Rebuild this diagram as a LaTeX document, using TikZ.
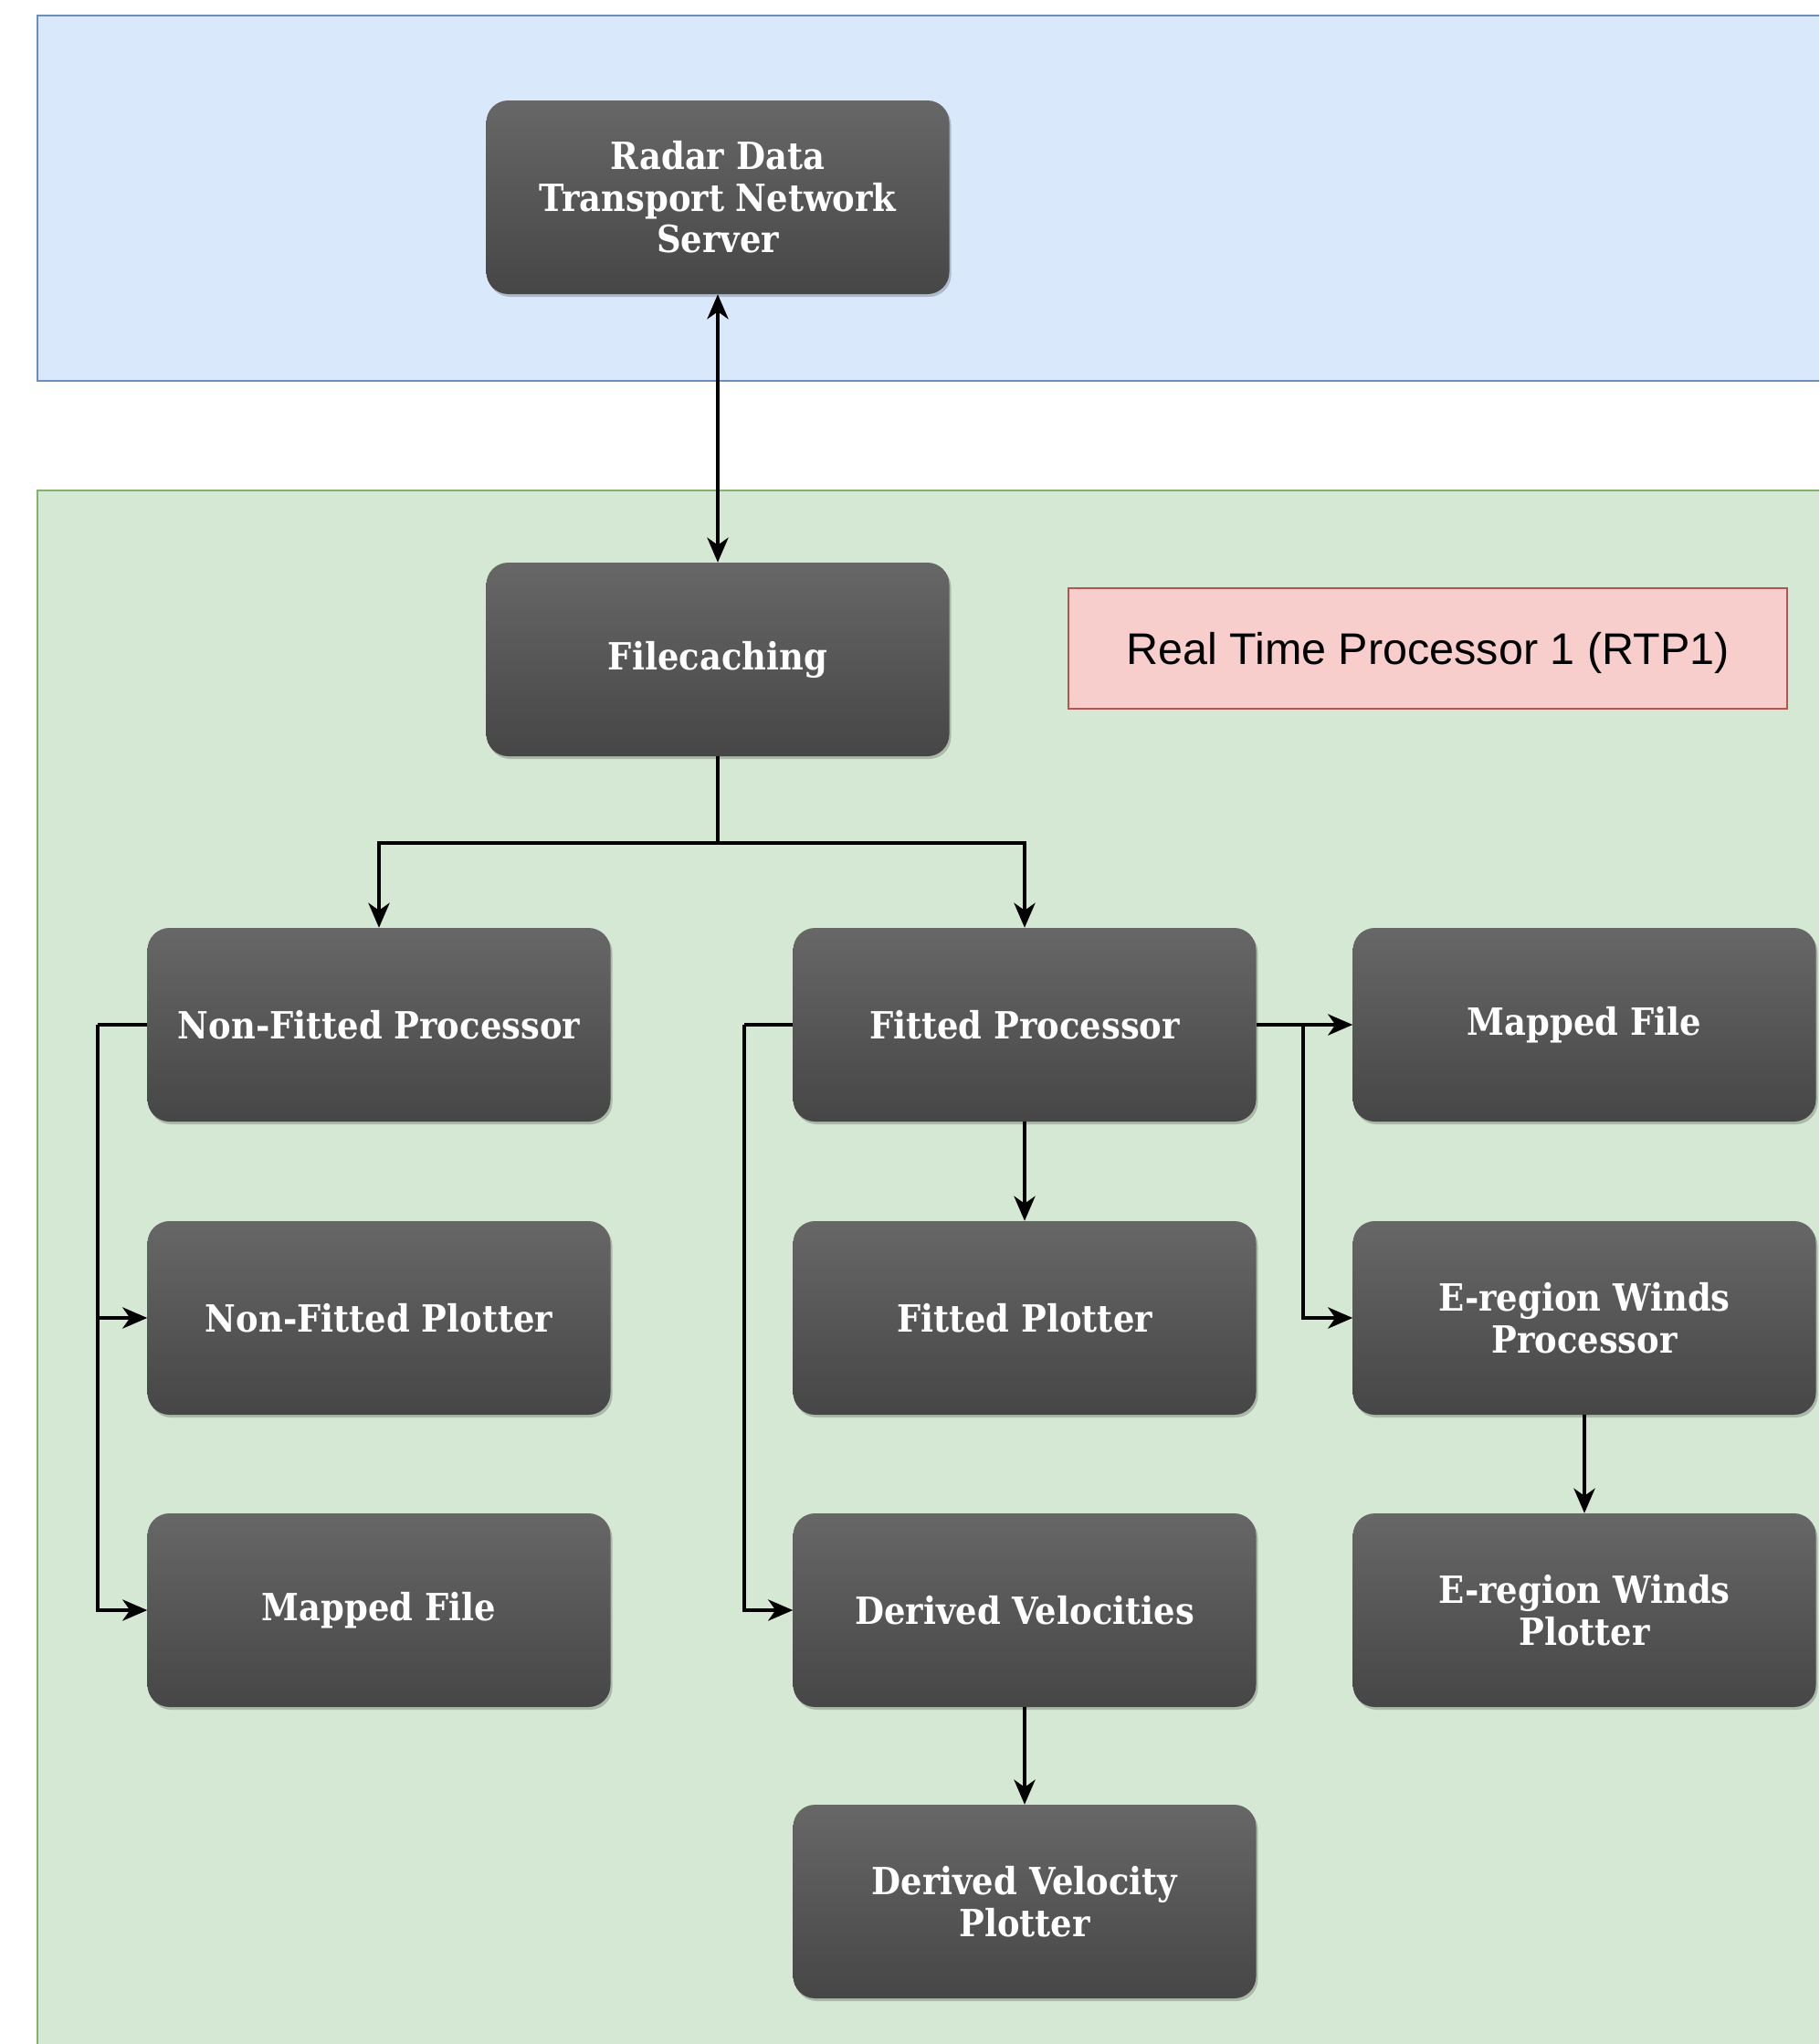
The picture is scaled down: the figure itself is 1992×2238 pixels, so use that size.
\documentclass[tikz,border=0pt]{standalone}
\usepackage{fontspec}
\usetikzlibrary{arrows.meta,shadows}
\newfontfamily\procfontfam[FakeStretch=0.9]{DejaVu Serif}
\newfontfamily\labelfam{Liberation Sans}
\definecolor{bluefill}{HTML}{DAE8FC}
\definecolor{blueline}{HTML}{6C8EBF}
\definecolor{greenfill}{HTML}{D5E8D4}
\definecolor{greenline}{HTML}{82B366}
\definecolor{pinkfill}{HTML}{F8CECC}
\definecolor{pinkline}{HTML}{B85450}
\definecolor{gtop}{HTML}{676767}
\definecolor{gbot}{HTML}{464646}
\tikzset{
  proc/.style={rectangle, rounded corners=24pt, minimum width=507pt, minimum height=212pt,
    top color=gtop, bottom color=gbot, draw=none, text=white, align=center, inner sep=0pt,
    font=\procfontfam\bfseries\fontsize{41}{45.7}\selectfont,
    drop shadow={shadow xshift=2pt, shadow yshift=-3pt, opacity=0.2, fill=black}},
  arr/.style={line width=4.5pt, -{Stealth[length=27pt,width=23pt,inset=8pt]}},
  arrboth/.style={line width=4.5pt, {Stealth[length=27pt,width=23pt,inset=8pt]}-{Stealth[length=27pt,width=23pt,inset=8pt]}},
  line/.style={line width=4.5pt}
}
\begin{document}
\begin{tikzpicture}[x=1pt,y=-1pt]
\useasboundingbox (0,0) rectangle (1992,2238);
\fill[white] (0,0) rectangle (1992,2238);
\begin{scope}
\clip (0,0) rectangle (1992,2238);
\draw[fill=bluefill, draw=blueline, line width=2pt] (41,17) rectangle (2010,417);
\draw[fill=greenfill, draw=greenline, line width=2pt] (41,537) rectangle (2010,2260);
\end{scope}
\node[draw=pinkline, fill=pinkfill, line width=2pt, minimum width=787pt, minimum height=132pt, inner sep=0pt,
  text depth=0pt, font=\labelfam\fontsize{48.5}{55}\selectfont] (rtp) at (1563.5,710) {Real Time Processor 1 (RTP1)};

\node[proc] (radar) at (786,216) {Radar Data\\Transport Network\\Server};
\node[proc] (filec) at (786,722) {Filecaching};
\node[proc] (nfp) at (415,1122) {Non-Fitted Processor};
\node[proc] (fp) at (1122,1122) {Fitted Processor};
\node[proc] (mf1) at (1735,1122) {Mapped File};
\node[proc] (nfplot) at (415,1443) {Non-Fitted Plotter};
\node[proc] (fplot) at (1122,1443) {Fitted Plotter};
\node[proc] (erwp) at (1735,1443) {E-region Winds\\Processor};
\node[proc] (mf2) at (415,1763) {Mapped File};
\node[proc] (dv) at (1122,1763) {Derived Velocities};
\node[proc] (erwplot) at (1735,1763) {E-region Winds\\Plotter};
\node[proc] (dvp) at (1122,2082) {Derived Velocity\\Plotter};

\coordinate (j) at (786,923);
\coordinate (nfpl) at (107,1122);
\coordinate (fpl) at (815,1122);
\coordinate (fpr) at (1427,1122);

\draw[arrboth] (radar.south) -- (filec.north);
\draw[line] (filec.south) -- (j);
\draw[arr] (j) -| (nfp.north);
\draw[arr] (j) -| (fp.north);
\draw[line] (nfp.west) -- (nfpl);
\draw[arr] (nfpl) |- (nfplot.west);
\draw[arr] (nfpl) |- (mf2.west);
\draw[line] (fp.west) -- (fpl);
\draw[arr] (fpl) |- (dv.west);
\draw[arr] (fp.east) -- (mf1.west);
\draw[arr] (fpr) |- (erwp.west);
\draw[arr] (fp.south) -- (fplot.north);
\draw[arr] (erwp.south) -- (erwplot.north);
\draw[arr] (dv.south) -- (dvp.north);
\end{tikzpicture}
\end{document}
